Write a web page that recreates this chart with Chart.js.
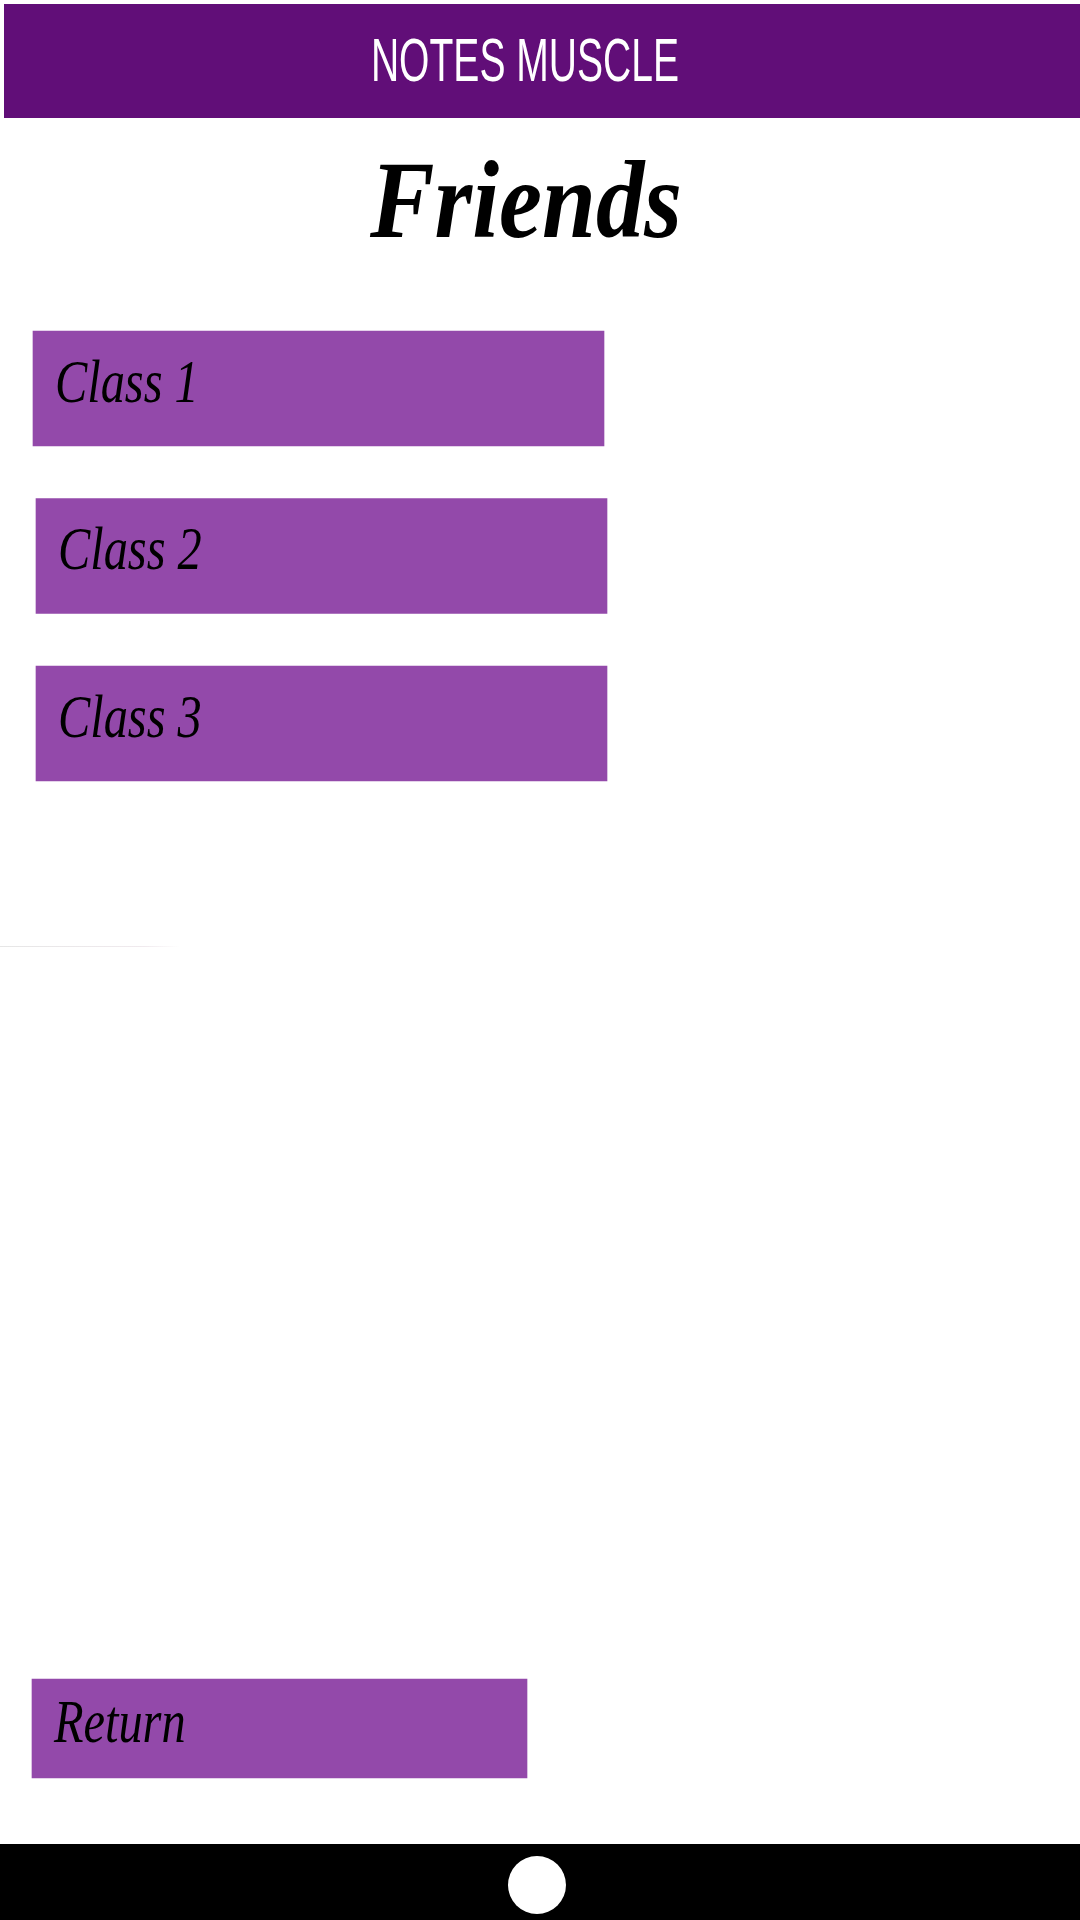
<!DOCTYPE html>
<html>
<head>
<meta charset="utf-8">
<title>Friends</title>
<script src="https://cdn.jsdelivr.net/npm/chart.js@4/dist/chart.umd.min.js"></script>
<style>
  html, body { margin: 0; padding: 0; background: #fff; }
  body { width: 1080px; height: 1920px; position: relative; overflow: hidden; }
  #header { position: absolute; left: 4px; top: 4px; width: 1076px; height: 114px; background: #610e78; }
  #brand {
    position: absolute; left: 0; top: 29px; width: 1050px; text-align: center;
    font-family: "Liberation Sans", Arial, sans-serif; font-size: 62px; line-height: 62px;
    color: #fff; transform: scaleX(0.63); transform-origin: 525px 0;
    white-space: nowrap;
  }
  #title {
    position: absolute; left: 0; top: 145px; width: 1052px; text-align: center;
    font-family: "Liberation Serif", "DejaVu Serif", serif; font-style: italic; font-weight: bold;
    font-size: 110px; line-height: 110px; color: #000;
    transform: scaleX(0.88); transform-origin: 526px 0; white-space: nowrap;
  }
  #rule { position: absolute; left: 0; top: 946px; width: 180px; height: 1px;
    background: linear-gradient(to right, #e6e6e6, #f0eaee 80%, rgba(255,255,255,0)); }
  #footer { position: absolute; left: 0; top: 1844px; width: 1080px; height: 76px; background: #000; }
  #dot { position: absolute; left: 508px; top: 12px; width: 58px; height: 58px; border-radius: 50%; background: #fff; }
  #chart { position: absolute; left: 0; top: 0; z-index: 2; }
</style>
</head>
<body>
<div id="header"></div>
<div id="brand">NOTES MUSCLE</div>
<div id="title">Friends</div>
<div id="rule"></div>
<div id="footer"><div id="dot"></div></div>
<canvas id="chart" width="1080" height="1920" style="width:1080px;height:1920px"></canvas>

<script>
// Menu entries, one per row (blank rows keep the gap before "Return")
const rowLabels = ['Class 1', 'Class 2', 'Class 3', '', '', '', '', '', 'Return'];

// Horizontal extent of each button, [from, to]
const classSpans = [[33, 604], [36, 607], [36, 607], null, null, null, null, null, null];
const returnSpan = [null, null, null, null, null, null, null, null, [32, 527]];

const BUTTON = '#9349aa';

// Writes each row's name inside its bar
const barLabels = {
    id: 'barLabels',
    afterDatasetsDraw(chart) {
        const ctx = chart.ctx;
        chart.data.datasets.forEach((ds, di) => {
            const meta = chart.getDatasetMeta(di);
            meta.data.forEach((bar, i) => {
                if (!ds.data[i]) return;
                const left = Math.min(bar.x, bar.base);
                ctx.save();
                ctx.translate(left + 22, bar.y + 13);
                ctx.scale(0.78, 1);
                ctx.font = 'italic 62px "Liberation Serif", "DejaVu Serif", serif';
                ctx.fillStyle = '#000';
                ctx.textBaseline = 'alphabetic';
                ctx.textAlign = 'left';
                ctx.fillText(chart.data.labels[i], 0, 0);
                ctx.restore();
            });
        });
    }
};

function initializeChart() {
    const ctx = document.getElementById('chart').getContext('2d');

    new Chart(ctx, {
        type: 'bar',
        data: {
            labels: rowLabels,
            datasets: [
                {
                    label: 'Classes',
                    data: classSpans,
                    backgroundColor: BUTTON,
                    borderWidth: 0,
                    barThickness: 115,
                    grouped: false
                },
                {
                    label: 'Return',
                    data: returnSpan,
                    backgroundColor: BUTTON,
                    borderWidth: 0,
                    barThickness: 99,
                    grouped: false
                }
            ]
        },
        options: {
            indexAxis: 'y',
            responsive: false,
            animation: false,
            devicePixelRatio: 1,
            layout: {
                padding: { top: 304.75, bottom: 107.75, left: 0, right: 0 }
            },
            plugins: {
                legend: { display: false },
                tooltip: { enabled: false },
                title: { display: false }
            },
            scales: {
                x: { type: 'linear', min: 0, max: 1080, display: false },
                y: { type: 'category', display: false, offset: true }
            }
        },
        plugins: [barLabels]
    });
}

document.addEventListener('DOMContentLoaded', initializeChart);
</script>
</body>
</html>
